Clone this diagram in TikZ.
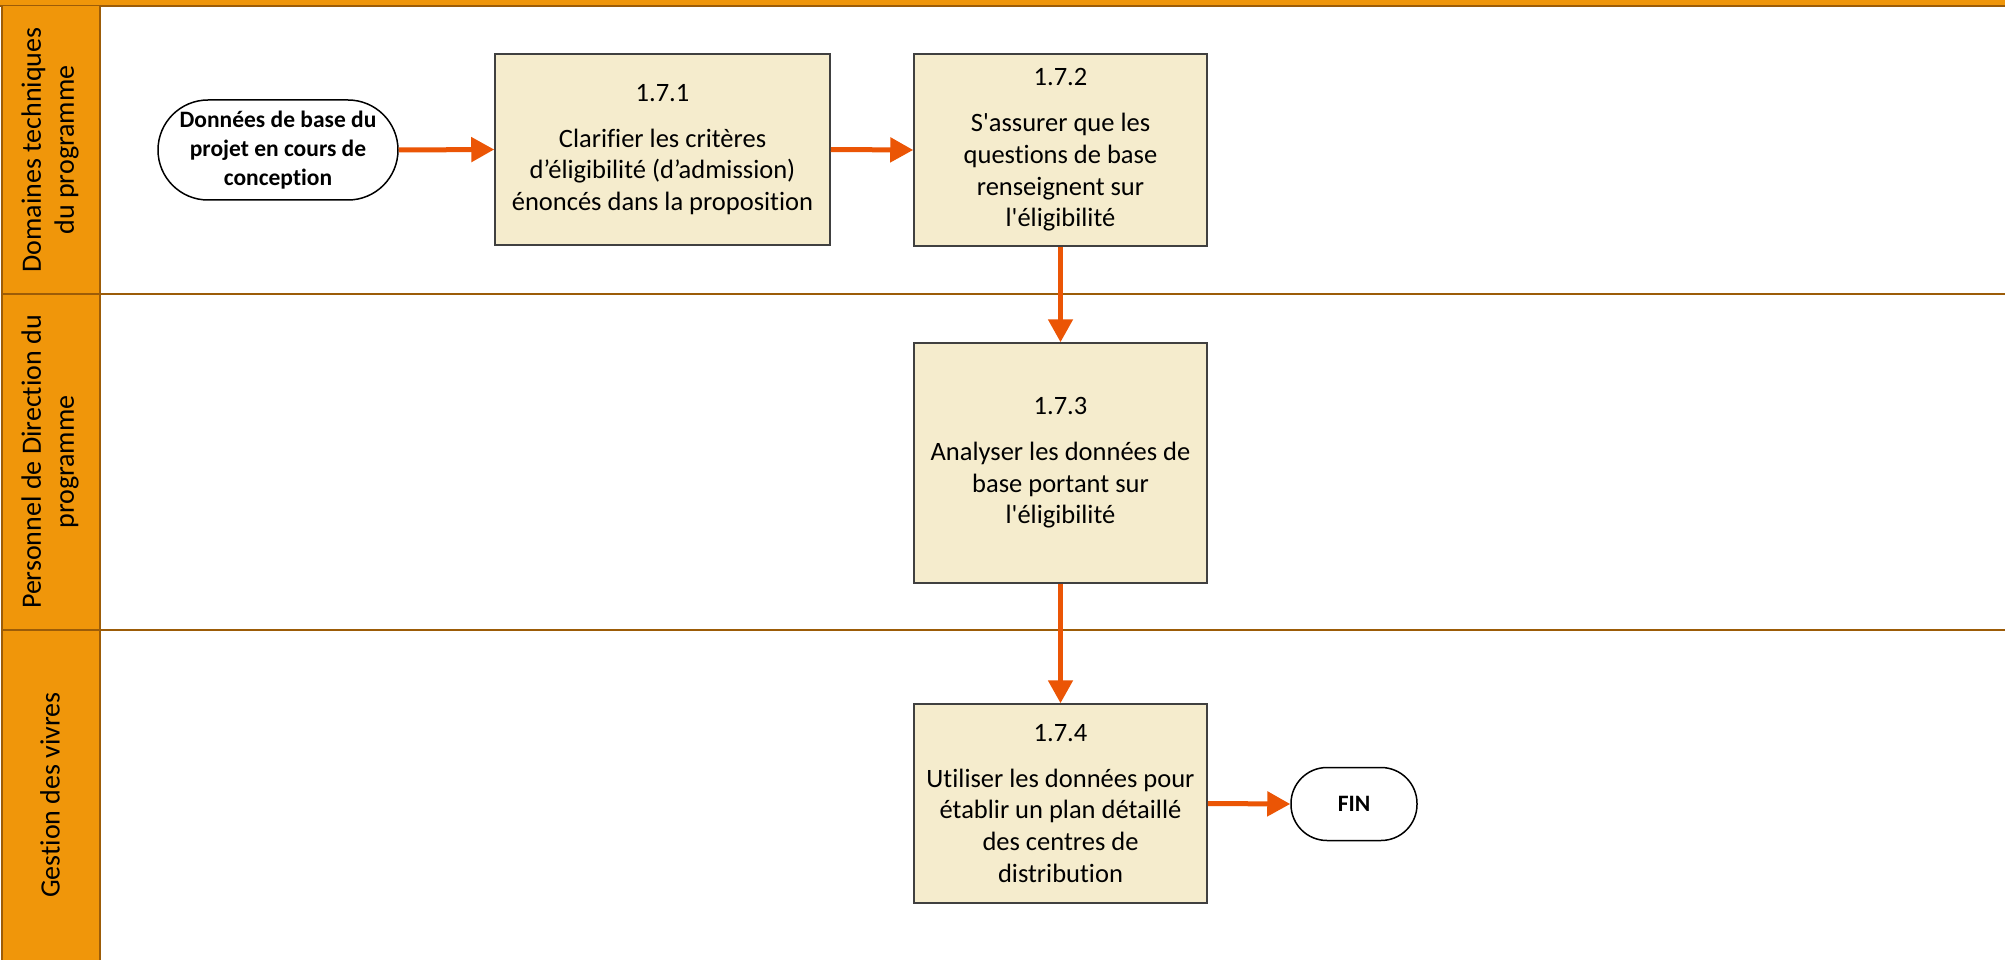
\documentclass[tikz,border=0pt]{standalone}
\usepackage{fontspec}
\setmainfont{Carlito}[Ligatures={TeXOff,NoCommon}]
\usetikzlibrary{arrows.meta}

\definecolor{laneorange}{RGB}{240,150,10}
\definecolor{lanebrown}{RGB}{156,92,8}
\definecolor{taskfill}{RGB}{245,236,205}
\definecolor{taskline}{RGB}{64,64,64}
\definecolor{flow}{RGB}{235,85,5}

\tikzset{
  task/.style={draw=taskline, line width=1.5pt, fill=taskfill, minimum width=293pt,
    align=center, inner sep=0pt, font=\fontsize{26.5}{31.7}\selectfont},
  terminal/.style={draw=black, line width=1.5pt, fill=white, align=center, inner sep=0pt,
    font=\bfseries\fontsize{23.5}{28.7}\selectfont},
  lanelabel/.style={rotate=90, align=center, inner sep=0pt, font=\fontsize{28}{33}\selectfont},
  laneline/.style={draw=lanebrown, line width=2pt},
  flowarrow/.style={draw=flow, line width=5pt, -{Triangle[length=23pt,width=24pt]}},
}

\begin{document}
\begin{tikzpicture}[x=1pt, y=-1pt]
  % page frame
  \fill[white] (0,0) rectangle (2005,960);
  \useasboundingbox (0,0) rectangle (2005,960);

  % top band
  \fill[laneorange] (0,0) rectangle (2005,6);
  \draw[laneline, line width=2.5pt] (0,6) -- (2005,6);

  % lane header column
  \fill[laneorange] (2,6) rectangle (100,960);
  \draw[laneline] (2,6) -- (2,960);
  \draw[laneline] (100,6) -- (100,960);

  % lane separators
  \draw[laneline] (2,294) -- (2005,294);
  \draw[laneline] (2,630) -- (2005,630);

  % lane titles
  \node[lanelabel] (lane1) at (50,150) {Domaines techniques\\du programme};
  \node[lanelabel] (lane2) at (50,462) {Personnel de Direction du\\programme};
  \node[lanelabel] (lane3) at (50,795) {Gestion des vivres};

  % start and end
  \node[terminal, minimum width=240pt, minimum height=100pt, rounded corners=50pt]
    (start) at (278,150) {Données de base du\\projet en cours de\\conception};
  \node[terminal, minimum width=126pt, minimum height=73pt, rounded corners=36pt]
    (fin) at (1354,804) {FIN};

  % tasks
  \node[task, minimum width=335pt, minimum height=191pt] (t1) at (662.5,149.5)
    {1.7.1\\[14pt]Clarifier les critères\\d’éligibilité (d’admission)\\énoncés dans la proposition};
  \node[task, minimum height=192pt] (t2) at (1060.5,150)
    {1.7.2\\[14pt]S'assurer que les\\questions de base\\renseignent sur\\l'éligibilité};
  \node[task, minimum height=240pt] (t3) at (1060.5,463)
    {1.7.3\\[14pt]Analyser les données de\\base portant sur\\l'éligibilité};
  \node[task, minimum height=199pt] (t4) at (1060.5,803.5)
    {1.7.4\\[14pt]Utiliser les données pour\\établir un plan détaillé\\des centres de\\distribution};

  % flow
  \draw[flowarrow] (start.east) -- (t1.west);
  \draw[flowarrow] (t1.east) -- (t2.west);
  \draw[flowarrow] (t2.south) -- (t3.north);
  \draw[flowarrow] (t3.south) -- (t4.north);
  \draw[flowarrow] (t4.east) -- (fin.west);
\end{tikzpicture}
\end{document}
